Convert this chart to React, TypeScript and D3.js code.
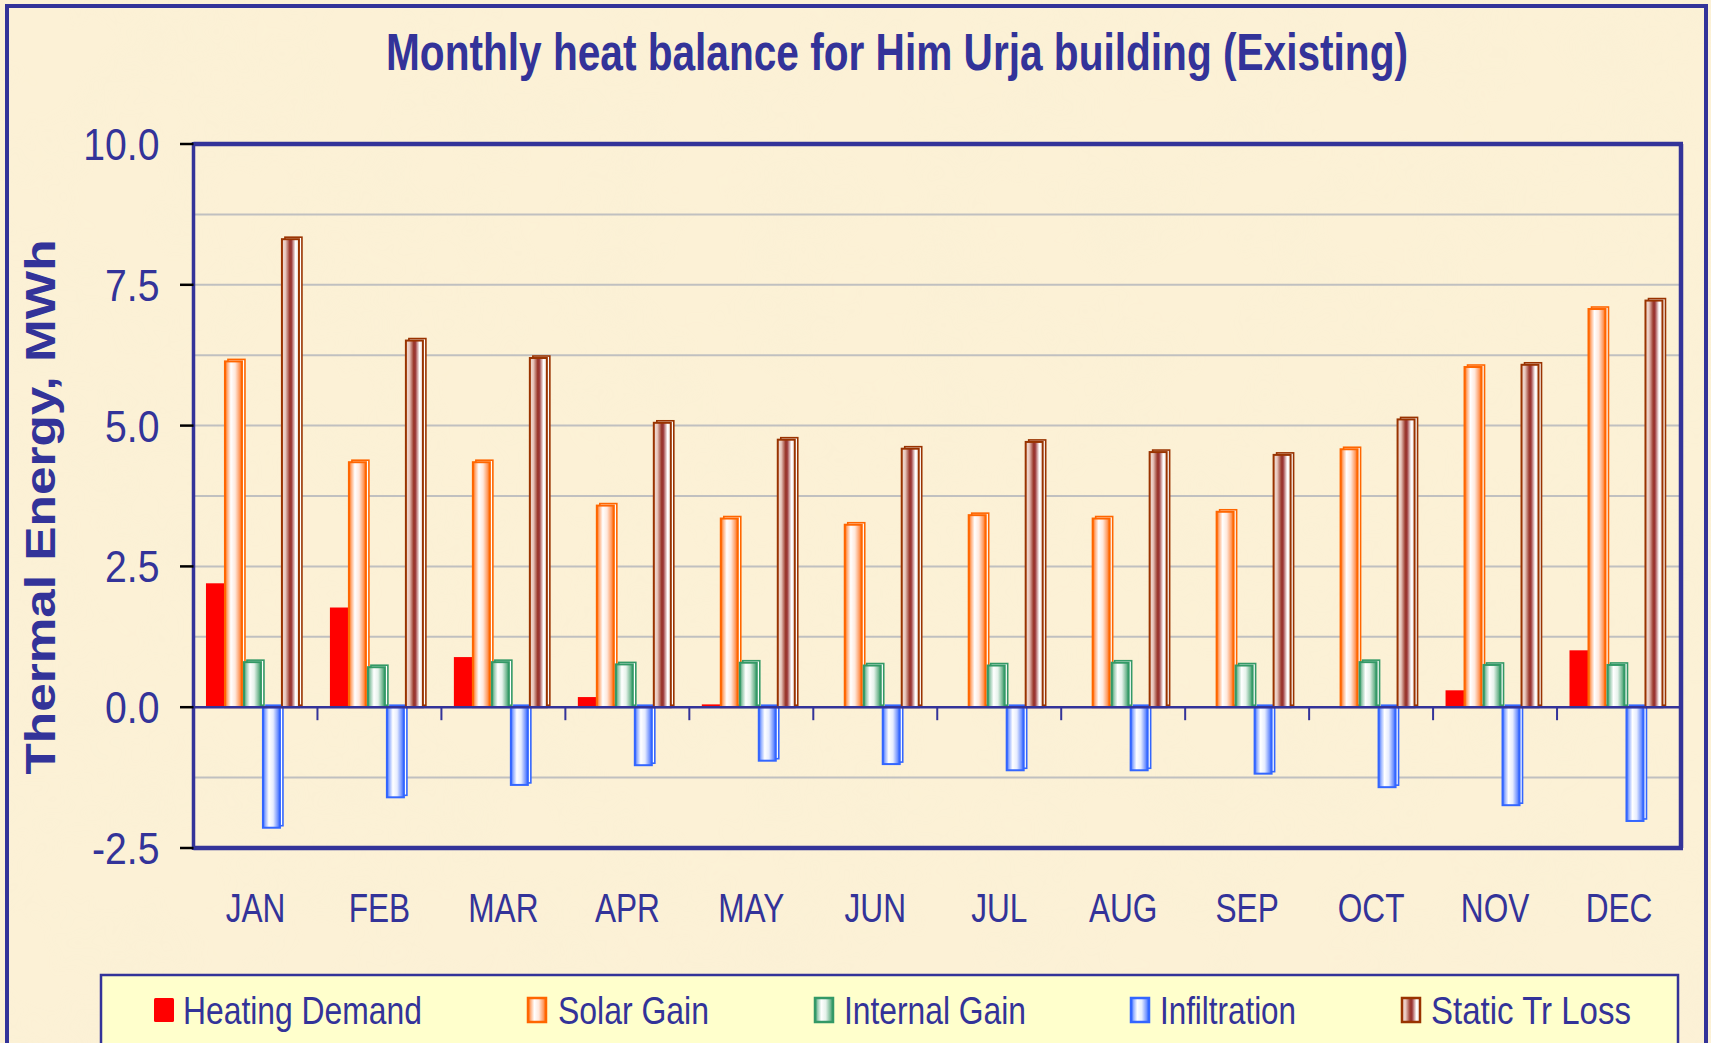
import React from 'react';
import * as d3 from 'd3';

const months = ['JAN', 'FEB', 'MAR', 'APR', 'MAY', 'JUN', 'JUL', 'AUG', 'SEP', 'OCT', 'NOV', 'DEC'];
const heatingDemand = [2.2, 1.77, 0.89, 0.18, 0.05, 0, 0, 0, 0, 0, 0.3, 1.01];
const solarGain = [6.14, 4.35, 4.35, 3.58, 3.35, 3.24, 3.41, 3.35, 3.47, 4.58, 6.04, 7.07];
const internalGain = [0.8, 0.71, 0.8, 0.76, 0.79, 0.74, 0.74, 0.79, 0.74, 0.8, 0.75, 0.75];
const infiltration = [-2.14, -1.6, -1.38, -1.03, -0.95, -1.01, -1.12, -1.12, -1.18, -1.42, -1.74, -2.02];
const staticTrLoss = [8.31, 6.51, 6.2, 5.05, 4.75, 4.59, 4.71, 4.53, 4.48, 5.11, 6.08, 7.22];
const seriesNames = ['Heating Demand', 'Solar Gain', 'Internal Gain', 'Infiltration', 'Static Tr Loss'];
const yTicks = [10, 7.5, 5, 2.5, 0, -2.5];
const gridValues = [8.75, 7.5, 6.25, 5, 3.75, 2.5, 1.25, -1.25];

const NAVY = '#333399';
const FONT = '"Liberation Sans", Arial, sans-serif';

const styles = [
  { id: 'heat', stroke: 'none', solid: '#FF0000' },
  { id: 'solar', stroke: '#FF6600' },
  { id: 'internal', stroke: '#339966' },
  { id: 'infil', stroke: '#3366FF' },
  { id: 'static', stroke: '#993300' },
];

const legendPos = [
  { sx: 154, tx: 183, tw: 239 },
  { sx: 528, tx: 558, tw: 151 },
  { sx: 815, tx: 844, tw: 182 },
  { sx: 1131, tx: 1160, tw: 136 },
  { sx: 1402, tx: 1431, tw: 200 },
];

export default function App() {
  const W = 1711, H = 1043;
  const left = 193.5, right = 1681, top = 144, bottom = 848;
  const x = d3.scaleBand<string>().domain(months).range([left, right]).paddingInner(0).paddingOuter(0);
  const xs = d3.scaleBand<string>().domain(seriesNames).range([0, x.bandwidth()]).paddingInner(0).paddingOuter(0.763).align(0.43);
  const y = d3.scaleLinear().domain([-2.5, 10]).range([bottom, top]);
  const data = [heatingDemand, solarGain, internalGain, infiltration, staticTrLoss];
  const bw = xs.bandwidth();
  const y0 = y(0);

  const bars: any[] = [];
  data.forEach((vals, si) => {
    const st = styles[si];
    vals.forEach((v, mi) => {
      if (v === 0) return;
      const bx = (x(months[mi]) as number) + (xs(seriesNames[si]) as number);
      const yt = Math.min(y(v), y0);
      const h = Math.abs(y(v) - y0);
      if (st.solid) {
        bars.push(<rect key={`b${si}-${mi}`} x={bx} y={yt} width={bw} height={h} fill={st.solid} />);
      } else {
        bars.push(
          <g key={`b${si}-${mi}`}>
            <rect x={bx + 3} y={yt - 2} width={bw - 2} height={h} fill="#ffffff" stroke={st.stroke} strokeWidth={1.6} />
            <rect x={bx} y={yt} width={bw - 2} height={h} fill={`url(#g-${st.id})`} stroke={st.stroke} strokeWidth={2} />
          </g>
        );
      }
    });
  });

  const grad = (id: string, stops: [number, string][]) => (
    <linearGradient id={id} x1="0" x2="1" y1="0" y2="0">
      {stops.map(([o, c], i) => <stop key={i} offset={`${o}%`} stopColor={c} />)}
    </linearGradient>
  );

  return (
    <svg width={W} height={H} style={{ position: 'absolute', left: 0, top: 0, display: 'block' }}>
      <defs>
        {grad('g-solar', [[0, '#FF6600'], [15, '#FFB080'], [35, '#FFFFFF'], [60, '#FFE8DC'], [85, '#FF9E66'], [100, '#FF6600']])}
        {grad('g-internal', [[0, '#339966'], [15, '#9CCCB2'], [35, '#FFFFFF'], [60, '#E6F2EB'], [85, '#7ABB97'], [100, '#339966'] ])}
        {grad('g-infil', [[0, '#3366FF'], [15, '#99B3FF'], [35, '#FFFFFF'], [60, '#E6ECFF'], [85, '#7A99FF'], [100, '#3366FF']])}
        {grad('g-static', [[0, '#F2DDD5'], [20, '#E9C9BF'], [45, '#9B3A2E'], [55, '#993333'], [80, '#FFFFFF'], [100, '#F5E6E0']])}
        <filter id="paper" x="0" y="0" width="100%" height="100%">
          <feTurbulence type="fractalNoise" baseFrequency="0.012" numOctaves={3} seed={4} />
          <feColorMatrix type="matrix" values="0 0 0 0 0.93  0 0 0 0 0.86  0 0 0 0 0.66  0 0 0 1.2 -0.45" />
        </filter>
      </defs>
      <rect x={0} y={0} width={W} height={H} fill="#FCF1D6" />
      <rect x={0} y={0} width={W} height={H} filter="url(#paper)" opacity={0.35} />

      {/* outer frame */}
      <rect x={7} y={6} width={1699} height={H + 20} fill="none" stroke={NAVY} strokeWidth={4} />

      {/* title */}
      <text x={386} y={70} fontFamily={FONT} fontWeight="bold" fontSize={52} fill={NAVY}
        textLength={1022} lengthAdjust="spacingAndGlyphs">Monthly heat balance for Him Urja building (Existing)</text>

      {/* gridlines */}
      {gridValues.map((g) => (
        <line key={`gl${g}`} x1={left} x2={right} y1={y(g)} y2={y(g)} stroke="#C0C0C0" strokeWidth={2} />
      ))}

      {/* bars */}
      {bars}

      {/* plot border top/right/bottom */}
      <line x1={left} x2={right + 2} y1={top} y2={top} stroke={NAVY} strokeWidth={4.5} />
      <line x1={right} x2={right} y1={top} y2={bottom} stroke={NAVY} strokeWidth={4.5} />
      <line x1={left} x2={right + 2} y1={bottom} y2={bottom} stroke={NAVY} strokeWidth={4.5} />

      {/* zero line with category ticks */}
      <line x1={left} x2={right} y1={y0} y2={y0} stroke={NAVY} strokeWidth={2.5} />
      {months.map((m, i) => (
        <line key={`ct${m}`} x1={(x(m) as number)} x2={(x(m) as number)} y1={y0} y2={y0 + 13} stroke={NAVY} strokeWidth={2} />
      ))}

      {/* y axis */}
      <line x1={left} x2={left} y1={top - 2} y2={bottom + 2} stroke={NAVY} strokeWidth={3.5} />
      {yTicks.map((t) => (
        <g key={`yt${t}`}>
          <line x1={180} x2={left} y1={y(t)} y2={y(t)} stroke="#000" strokeWidth={2.5} />
          <text transform={`translate(159.5,${y(t) + 16}) scale(0.87,1)`} textAnchor="end"
            fontFamily={FONT} fontSize={45} fill={NAVY}>{t.toFixed(1)}</text>
        </g>
      ))}

      {/* y axis title */}
      <text transform={`translate(55,507) rotate(-90)`} textAnchor="middle" fontFamily={FONT}
        fontWeight="bold" fontSize={42} fill={NAVY} textLength={535} lengthAdjust="spacingAndGlyphs">Thermal Energy, MWh</text>

      {/* x labels */}
      {months.map((m) => (
        <text key={`xl${m}`} transform={`translate(${(x(m) as number) + x.bandwidth() / 2},922) scale(0.79,1)`}
          textAnchor="middle" fontFamily={FONT} fontSize={40} fill={NAVY}>{m}</text>
      ))}

      {/* legend */}
      <rect x={101} y={975} width={1577} height={100} fill="#FFFFCC" stroke={NAVY} strokeWidth={2.5} />
      {seriesNames.map((s, i) => {
        const p = legendPos[i];
        const st = styles[i];
        return (
          <g key={`lg${s}`}>
            {st.solid ? (
              <rect x={p.sx} y={998} width={20} height={24} rx={1.5} fill={st.solid} />
            ) : (
              <rect x={p.sx} y={998} width={18} height={24} fill={`url(#g-${st.id})`} stroke={st.stroke} strokeWidth={2.5} />
            )}
            <text x={p.tx} y={1024} fontFamily={FONT} fontSize={39} fill={NAVY}
              textLength={p.tw} lengthAdjust="spacingAndGlyphs">{s}</text>
          </g>
        );
      })}
    </svg>
  );
}
